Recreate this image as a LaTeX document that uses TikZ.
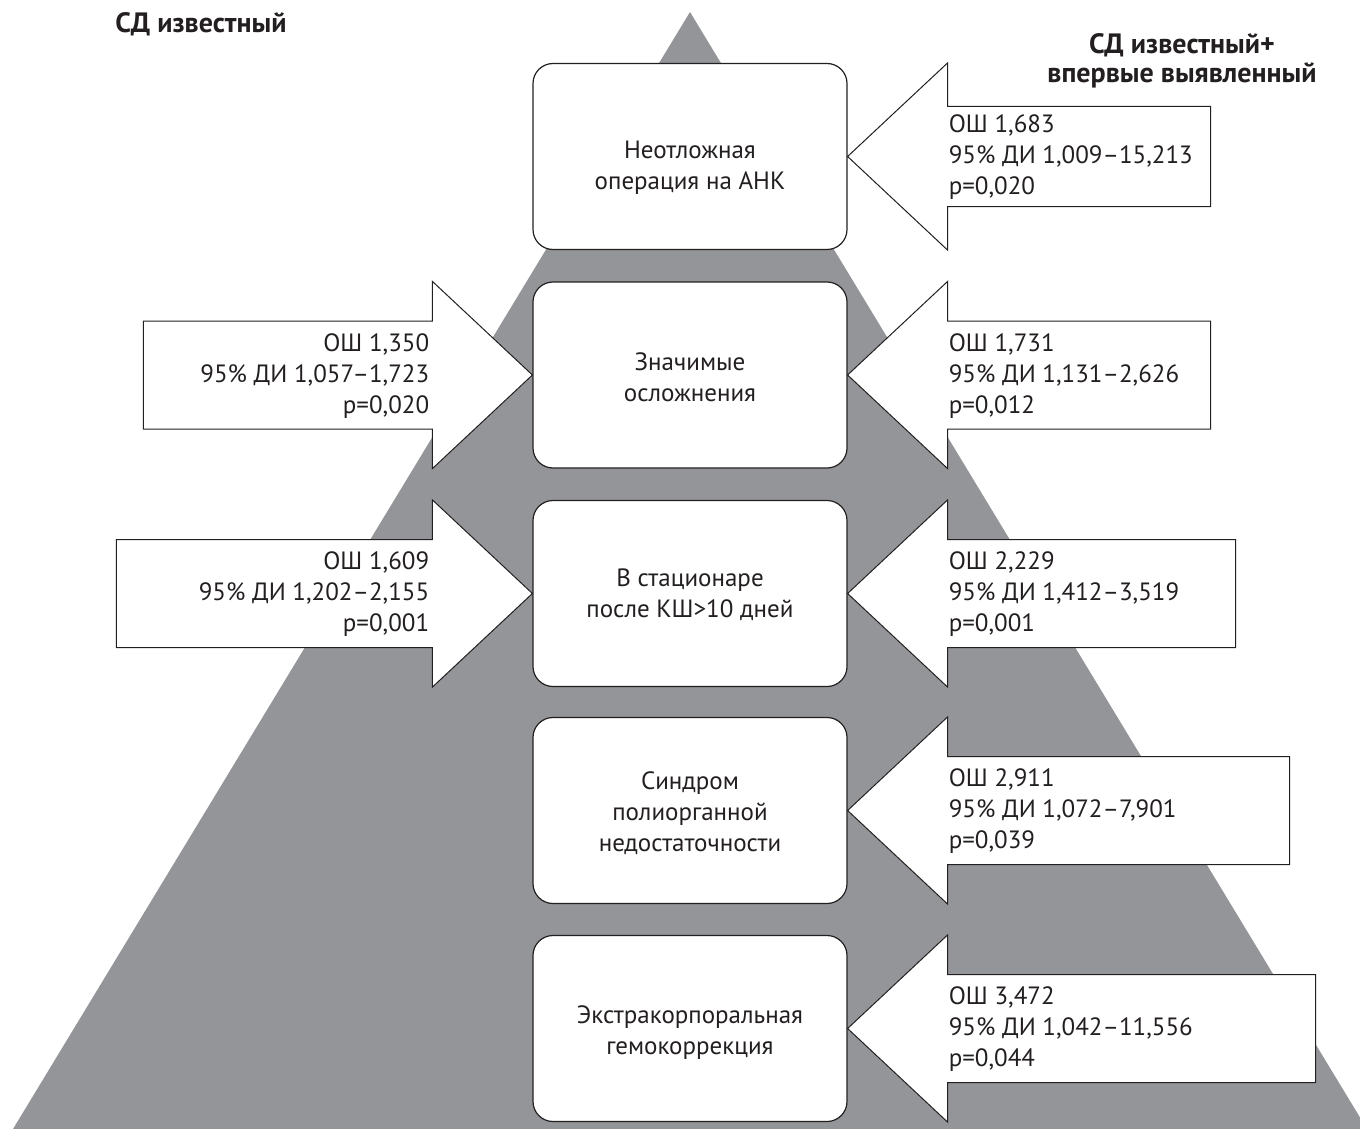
\documentclass[tikz,border=0pt]{standalone}
\usepackage{fontspec}
\setmainfont{PT Sans}
\usetikzlibrary{calc}
\definecolor{pyr}{HTML}{939598}
\definecolor{ink}{HTML}{231F20}
\tikzset{
  box/.style={draw=ink, line width=1.2pt, fill=white, rounded corners=20pt,
    minimum width=314pt, minimum height=186pt, inner sep=0pt},
  arrowshape/.style={draw=ink, line width=1pt, fill=white, line join=miter},
  txt/.style={text=ink, inner sep=0pt, font=\fontsize{25}{31}\selectfont},
  head/.style={text=ink, inner sep=0pt, font=\fontsize{28}{29}\selectfont\bfseries, align=center}
}
% arrow pointing left onto the east side of box #1; #2 = body length offset, #3 = half body height
\newcommand\arrowtoeast[3]{%
  \draw[arrowshape] (#1.east) -- ($(#1.north east)+(100,0)$) -- ($(#1.east)+(100,-#3)$)
    -- ($(#1.east)+(#2,-#3)$) -- ($(#1.east)+(#2,#3)$) -- ($(#1.east)+(100,#3)$)
    -- ($(#1.south east)+(100,0)$) -- cycle;}
% arrow pointing right onto the west side of box #1
\newcommand\arrowtowest[3]{%
  \draw[arrowshape] (#1.west) -- ($(#1.north west)+(-100,0)$) -- ($(#1.west)+(-100,-#3)$)
    -- ($(#1.west)+(-#2,-#3)$) -- ($(#1.west)+(-#2,#3)$) -- ($(#1.west)+(-100,#3)$)
    -- ($(#1.south west)+(-100,0)$) -- cycle;}
\begin{document}
\begin{tikzpicture}[x=1pt,y=-1pt]
\useasboundingbox (0,0) rectangle (1360,1129);
\clip (0,0) rectangle (1360,1129);
\fill[pyr] (690,12) -- (1367,1129) -- (13,1129) -- cycle;

% headings
\node[head] (hl) at (201,24) {СД известный};
\node[head] (hr) at (1182,61) {СД известный+\\впервые выявленный};

% boxes
\node[box] (b1) at (690,156.5) {};
\node[box] (b2) at (690,375) {};
\node[box] (b3) at (690,593.5) {};
\node[box] (b4) at (690,810.5) {};
\node[box] (b5) at (690,1028.5) {};

\node[txt, align=center] (t1) at ($(b1)+(0,11)$) {Неотложная\\операция на АНК};
\node[txt, align=center] (t2) at ($(b2)+(0,2)$) {Значимые\\осложнения};
\node[txt, align=center] (t3) at ($(b3)+(0,1)$) {В стационаре\\после КШ>10 дней};
\node[txt, align=center] (t4) at ($(b4)+(0,3)$) {Синдром\\полиорганной\\недостаточности};
\node[txt, align=center] (t5) at ($(b5)+(0,4)$) {Экстракорпоральная\\гемокоррекция};

% right-hand arrows
\arrowtoeast{b1}{363}{50}
\arrowtoeast{b2}{363}{54}
\arrowtoeast{b3}{388}{54}
\arrowtoeast{b4}{442}{54}
\arrowtoeast{b5}{468}{54}
% left-hand arrows
\arrowtowest{b2}{389}{54}
\arrowtowest{b3}{416}{54}

% arrow texts, right side
\node[txt, align=left, anchor=west] (r1) at ($(b1.east)+(101,1)$) {ОШ 1,683\\95\% ДИ 1,009–15,213\\p=0,020};
\node[txt, align=left, anchor=west] (r2) at ($(b2.east)+(101,1)$) {ОШ 1,731\\95\% ДИ 1,131–2,626\\p=0,012};
\node[txt, align=left, anchor=west] (r3) at ($(b3.east)+(101,1)$) {ОШ 2,229\\95\% ДИ 1,412–3,519\\p=0,001};
\node[txt, align=left, anchor=west] (r4) at ($(b4.east)+(101,1)$) {ОШ 2,911\\95\% ДИ 1,072–7,901\\p=0,039};
\node[txt, align=left, anchor=west] (r5) at ($(b5.east)+(101,1)$) {ОШ 3,472\\95\% ДИ 1,042–11,556\\p=0,044};
% arrow texts, left side
\node[txt, align=right, anchor=east] (l2) at ($(b2.west)+(-103,1)$) {ОШ 1,350\\95\% ДИ 1,057–1,723\\p=0,020};
\node[txt, align=right, anchor=east] (l3) at ($(b3.west)+(-103,1)$) {ОШ 1,609\\95\% ДИ 1,202–2,155\\p=0,001};
\end{tikzpicture}
\end{document}
